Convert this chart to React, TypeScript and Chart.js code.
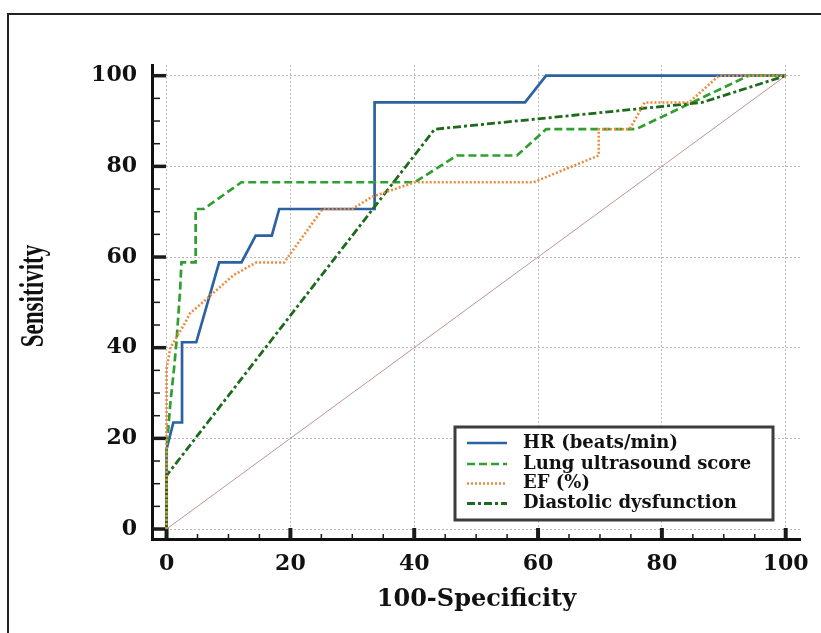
import React, { useEffect, useRef } from 'react';
import { Chart, registerables } from 'chart.js';

Chart.register(...registerables);

// ---- data (100-Specificity, Sensitivity) ----
const hrFpr = [0, 0, 1.1, 2.5, 2.5, 4.8, 8.5, 12.1, 14.4, 17.0, 18.2, 33.6, 33.6, 57.9, 61.3, 100];
const hrSens = [0, 17.6, 23.5, 23.5, 41.2, 41.2, 58.8, 58.8, 64.7, 64.7, 70.6, 70.6, 94.1, 94.1, 100, 100];

const lusFpr = [0, 0, 0.6, 1.2, 1.6, 2.2, 2.4, 4.7, 4.7, 6.0, 12.1, 40.1, 46.9, 56.6, 61.3, 75.8, 94.0, 100];
const lusSens = [0, 17.6, 27.5, 35.3, 41.2, 52.9, 58.8, 58.8, 70.6, 70.6, 76.5, 76.5, 82.4, 82.4, 88.2, 88.2, 100, 100];

const efFpr = [0, 0, 0.6, 1.7, 2.8, 3.8, 6.0, 10.8, 14.5, 19.0, 25.2, 30.0, 33.2, 40.1, 59.3, 69.8, 69.8, 74.8, 77.2, 84.4, 89.2, 100];
const efSens = [0, 35.3, 39.9, 42.5, 45.0, 47.6, 50.2, 56.0, 58.8, 58.8, 70.6, 70.6, 73.3, 76.5, 76.5, 82.4, 88.2, 88.2, 94.1, 94.1, 100, 100];

const ddFpr = [0, 0, 43.3, 86.5, 100];
const ddSens = [0, 11.8, 88.2, 94.1, 100];

const refFpr = [0, 100];
const refSens = [0, 100];

const seriesLabels = ['HR (beats/min)', 'Lung ultrasound score', 'EF (%)', 'Diastolic dysfunction'];
const tickValues = [0, 5, 10, 15, 20, 25, 30, 35, 40, 45, 50, 55, 60, 65, 70, 75, 80, 85, 90, 95, 100];
const labelStep = 20;
const xTitle = '100-Specificity';
const yTitle = 'Sensitivity';

const toPoints = (xs: number[], ys: number[]) => xs.map((x, i) => ({ x, y: ys[i] }));

const TEXT = '#111111';

const tickMarksPlugin = {
  id: 'tickMarks',
  beforeDatasetsDraw(chart: any) {
    const { ctx, chartArea, scales } = chart;
    ctx.save();
    ctx.strokeStyle = '#1a1a1a';
    tickValues.forEach((v) => {
      const major = v % labelStep === 0;
      const px = scales.x.getPixelForValue(v);
      ctx.lineWidth = major ? 4 : 1.5;
      ctx.beginPath();
      ctx.moveTo(px, chartArea.bottom);
      ctx.lineTo(px, chartArea.bottom - (major ? 11 : 5));
      ctx.stroke();
      const py = scales.y.getPixelForValue(v);
      ctx.lineWidth = major ? 3.5 : 1.5;
      ctx.beginPath();
      ctx.moveTo(chartArea.left, py);
      ctx.lineTo(chartArea.left + (major ? 14 : 8), py);
      ctx.stroke();
    });
    ctx.restore();
  },
};

const yTitlePlugin = {
  id: 'yTitleCondensed',
  afterDraw(chart: any) {
    const { ctx, chartArea } = chart;
    ctx.save();
    ctx.translate(34, (chartArea.top + chartArea.bottom) / 2 - 6);
    ctx.rotate(-Math.PI / 2);
    ctx.scale(0.7, 1);
    ctx.font = 'bold 33px "Liberation Serif"';
    ctx.fillStyle = TEXT;
    ctx.textAlign = 'center';
    ctx.textBaseline = 'middle';
    ctx.fillText(yTitle, 0, 0);
    ctx.restore();
  },
};

const boxLegendPlugin = {
  id: 'boxLegend',
  afterDraw(chart: any) {
    const { ctx } = chart;
    const left = 455, top = 427, w = 318, h = 93;
    ctx.save();
    ctx.fillStyle = '#ffffff';
    ctx.fillRect(left, top, w, h);
    ctx.lineWidth = 3;
    ctx.strokeStyle = '#3c3c3c';
    ctx.strokeRect(left, top, w, h);
    const rowY = [443, 464, 483.5, 503.5];
    chart.data.datasets.forEach((ds: any) => {
      const idx = seriesLabels.indexOf(ds.label);
      if (idx < 0) return;
      const y = rowY[idx];
      ctx.beginPath();
      ctx.setLineDash(ds.borderDash || []);
      ctx.lineWidth = ds.borderWidth;
      ctx.strokeStyle = ds.borderColor;
      ctx.moveTo(467, y);
      ctx.lineTo(507, y);
      ctx.stroke();
      ctx.setLineDash([]);
      ctx.fillStyle = TEXT;
      ctx.font = 'bold 18px "DejaVu Serif"';
      ctx.textAlign = 'left';
      ctx.textBaseline = 'middle';
      ctx.fillText(ds.label, 523, y);
    });
    ctx.restore();
  },
};

const tickFont = { family: '"DejaVu Serif"', size: 22, weight: 'bold' as const };

function gridColor(c: any) {
  return c.tick && c.tick.value % labelStep === 0 ? '#b8b8b8' : 'rgba(0,0,0,0)';
}

export default function App() {
  const ref = useRef<HTMLCanvasElement | null>(null);

  useEffect(() => {
    if (!ref.current) return;
    const line = (label: string, xs: number[], ys: number[], color: string, width: number, dash: number[], order: number) => ({
      label,
      data: toPoints(xs, ys),
      borderColor: color,
      backgroundColor: color,
      borderWidth: width,
      borderDash: dash,
      borderCapStyle: 'butt',
      borderJoinStyle: 'miter',
      showLine: true,
      pointRadius: 0,
      fill: false,
      tension: 0,
      order,
    });
    const chart = new Chart(ref.current, {
      type: 'scatter',
      data: {
        datasets: [
          line(seriesLabels[0], hrFpr, hrSens, '#2c62a2', 2.7, [], 4),
          line(seriesLabels[1], lusFpr, lusSens, '#2fa02f', 2.7, [8, 4], 3),
          line(seriesLabels[2], efFpr, efSens, '#ee8a3c', 2.6, [2, 2], 1),
          line(seriesLabels[3], ddFpr, ddSens, '#1d6a1d', 2.8, [8, 3, 3, 3], 2),
          line('reference', refFpr, refSens, '#c09494', 1, [], 5),
        ] as any,
      },
      options: {
        animation: false,
        responsive: false,
        layout: { padding: { left: 0, top: 65, right: 14, bottom: 0 } },
        plugins: { legend: { display: false }, tooltip: { enabled: false } },
        scales: {
          x: {
            type: 'linear',
            min: -2.35,
            max: 102.45,
            afterBuildTicks: (s: any) => {
              s.ticks = tickValues.map((v) => ({ value: v }));
            },
            afterFit: (s: any) => {
              s.height = 94;
            },
            ticks: {
              autoSkip: false,
              maxRotation: 0,
              padding: 12,
              color: TEXT,
              font: tickFont,
              callback: (v: any) => (Number(v) % labelStep === 0 ? String(v) : ''),
            },
            grid: { color: gridColor, lineWidth: 1, drawTicks: false },
            border: { display: true, color: '#111', width: 3, dash: [2, 2] },
            title: {
              display: true,
              text: xTitle,
              color: TEXT,
              font: { family: '"DejaVu Serif"', size: 24, weight: 'bold' },
              padding: { top: 0, bottom: 19 },
            },
          },
          y: {
            type: 'linear',
            min: -2.2,
            max: 102.36,
            afterBuildTicks: (s: any) => {
              s.ticks = tickValues.map((v) => ({ value: v }));
            },
            afterFit: (s: any) => {
              s.width = 152;
            },
            ticks: {
              autoSkip: false,
              padding: 15,
              color: TEXT,
              font: tickFont,
              callback: (v: any) => (Number(v) % labelStep === 0 ? String(v) : ''),
            },
            grid: { color: gridColor, lineWidth: 1, drawTicks: false },
            border: { display: true, color: '#111', width: 3, dash: [2, 2] },
          },
        },
      } as any,
      plugins: [tickMarksPlugin, yTitlePlugin, boxLegendPlugin],
    });
    return () => chart.destroy();
  }, []);

  return (
    <div style={{ position: 'fixed', left: 0, top: 0, width: 821, height: 633, overflow: 'hidden', background: '#fff' }}>
      <div
        style={{
          position: 'absolute',
          left: 7,
          top: 13,
          width: 860,
          height: 680,
          border: '2px solid #222',
          boxSizing: 'border-box',
        }}
      />
      <canvas ref={ref} width={821} height={633} style={{ position: 'absolute', left: 0, top: 0, display: 'block' }} />
    </div>
  );
}
